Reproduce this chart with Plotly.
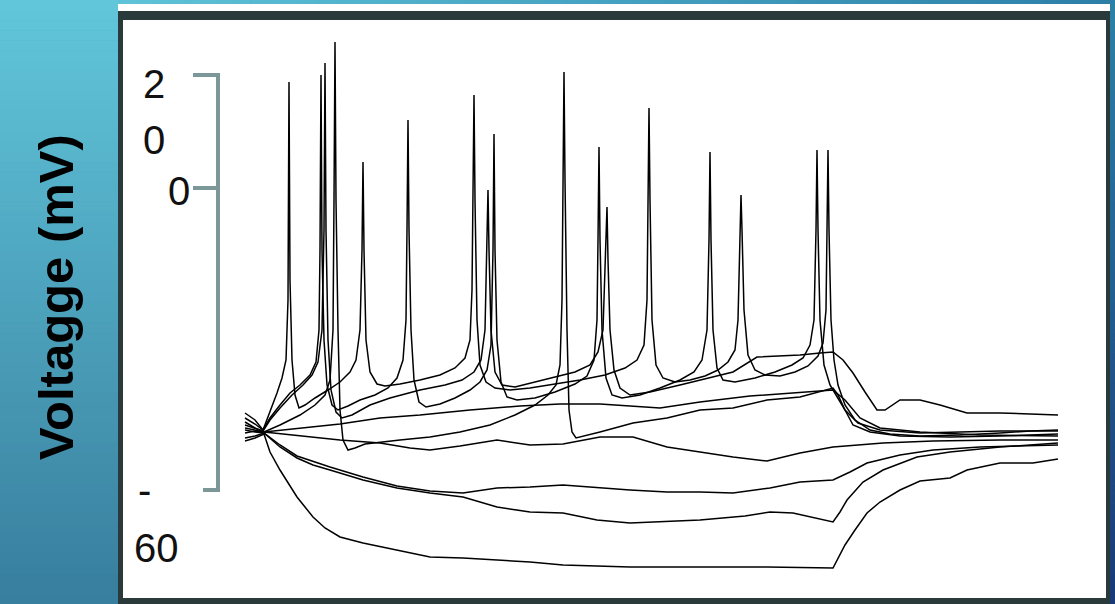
import plotly.graph_objects as go

# ---------------- data: membrane voltage traces (time in ms, voltage in mV) ----------------
trace_h1 = [(-17,-50.6),(-7,-50.0),(2,-49.2),(8,-52.8),(18,-56.4),(28,-59.6),(35,-61.8),(43,-63.8),(51,-65.8),(63,-68.0),
            (78,-69.8),(101,-71.0),(135,-72.4),(168,-73.8),(201,-74.0),(235,-74.4),(268,-74.8),(301,-75.4),(368,-75.8),(438,-75.8),
            (505,-75.8),(571,-76.0),(576,-74.0),(583,-71.4),(593,-68.4),(605,-65.0),(618,-62.8),(638,-60.4),(658,-58.6),(688,-58.0),
            (705,-56.4),(738,-55.0),(771,-55.0),(796,-54.2)]

trace_h2 = [(-17,-50.0),(-7,-49.6),(2,-49.0),(18,-51.8),(35,-54.0),(51,-55.4),(68,-56.4),(101,-58.4),(135,-60.0),(168,-61.0),
            (201,-61.8),(235,-63.8),(268,-64.8),(301,-65.0),(335,-66.4),(368,-67.0),(438,-66.4),(483,-65.6),(508,-64.8),(531,-65.0),
            (571,-66.8),(578,-64.8),(585,-62.4),(601,-58.8),(621,-56.4),(655,-53.8),(688,-52.8),(738,-51.8),(796,-51.0)]

trace_h3 = [(-17,-48.4),(-7,-48.8),(2,-49.0),(18,-51.4),(35,-53.6),(68,-55.8),(101,-57.8),(135,-59.6),(168,-60.6),(201,-61.0),
            (235,-60.0),(268,-59.8),(301,-59.4),(338,-60.0),(368,-60.4),(405,-60.8),(438,-60.8),(471,-61.0),(508,-60.0),(538,-58.8),
            (571,-58.4),(588,-56.8),(605,-55.0),(638,-53.4),(671,-52.4),(718,-51.8),(758,-51.6),(796,-51.4)]

trace_h4 = [(-17,-49.0),(-7,-48.6),(2,-48.8),(38,-49.6),(78,-50.4),(118,-51.0),(148,-52.0),(168,-52.4),(198,-51.6),(235,-50.4),
            (268,-51.4),(301,-51.2),(338,-49.8),(371,-49.8),(405,-51.8),(438,-52.8),(471,-53.8),(505,-54.6),(538,-53.0),(571,-51.8),
            (598,-51.4),(621,-51.0),(671,-50.6),(738,-50.4),(796,-50.4)]

trace_sub = [(-17,-46.8),(-7,-48.0),(2,-48.8),(38,-48.0),(78,-47.2),(118,-46.0),(158,-45.4),(208,-44.4),(258,-43.6),(298,-43.2),
             (338,-43.2),(398,-44.0),(438,-42.8),(488,-41.6),(538,-40.8),(571,-40.4),(583,-42.4),(598,-46.0),(618,-48.0),(658,-48.8),
             (718,-49.4),(796,-49.6)]

trace_d = [(-17,-48.0),(-7,-48.4),(2,-48.8),(18,-47.4),(38,-45.4),(53,-43.4),(63,-41.4),(68,-38.4),(71,-28.4),(72,-2.4),
           (73,29.2),(74,-2.4),(76,-28.4),(78,-44.4),(81,-50.4),(86,-52.4),(93,-52.0),(103,-51.2),(118,-50.8),(138,-50.4),
           (168,-49.8),(198,-48.8),(228,-47.4),(253,-45.4),(273,-43.4),(286,-41.4),(294,-39.4),(298,-35.4),(300,-22.4),(301,1.6),
           (302,23.2),(303,1.6),(305,-28.4),(307,-44.4),(310,-48.8),(314,-50.0),(323,-49.6),(338,-48.8),(371,-47.0),(405,-46.0),
           (438,-44.4),(471,-44.0),(505,-42.4),(538,-41.8),(571,-40.0),(576,-41.4),(583,-44.4),(591,-47.4),(608,-48.8),(638,-49.6),
           (688,-49.8),(738,-49.6),(796,-49.2)]

trace_a = [(-17,-46.0),(-7,-47.2),(1,-48.4),(8,-44.8),(15,-41.0),(20,-38.0),(24,-34.4),(26,-22.4),(27,21.2),(28,-18.4),
           (30,-34.4),(33,-41.4),(37,-44.0),(43,-43.4),(53,-42.0),(66,-40.4),(78,-38.8),(88,-36.8),(94,-34.4),(98,-28.4),
           (100,-12.4),(101,5.2),(102,-12.4),(104,-30.4),(108,-36.8),(115,-39.2),(123,-39.6),(138,-39.2),(158,-38.4),(178,-37.4),
           (193,-36.0),(203,-34.0),(208,-30.4),(210,-20.4),(211,-2.4),(212,18.6),(213,-2.4),(215,-26.4),(218,-35.4),(224,-38.8),
           (233,-40.0),(248,-40.4),(268,-40.0),(293,-39.2),(318,-38.4),(343,-37.4),(363,-36.0),(375,-34.4),(382,-31.4),(385,-22.4),
           (386,-2.4),(387,16.0),(388,-2.4),(390,-26.4),(394,-35.4),(401,-38.0),(413,-38.8),(428,-38.4),(443,-37.6),(456,-36.4),
           (466,-34.8),(473,-32.4),(476,-26.4),(478,-8.4),(479,-1.4),(480,-8.4),(482,-24.4),(486,-33.4),(493,-36.4),(503,-37.4),
           (518,-37.6),(533,-36.8),(546,-35.6),(556,-33.6),(561,-31.0),(564,-24.4),(565,-8.4),(566,7.6),(567,-8.4),(569,-26.4),
           (572,-34.4),(576,-39.4),(583,-43.4),(593,-46.4),(608,-48.4),(628,-49.2),(658,-49.6),(698,-49.4),(738,-49.0),(768,-48.6),
           (796,-48.4)]

trace_b = [(-17,-45.0),(-7,-46.4),(1,-48.4),(8,-46.0),(18,-43.4),(28,-41.0),(38,-39.4),(48,-37.4),(54,-34.8),(57,-28.4),
           (58,-12.4),(59,22.6),(60,-12.4),(62,-30.4),(65,-39.4),(70,-43.4),(76,-44.4),(86,-43.6),(98,-42.4),(113,-41.4),
           (126,-40.0),(135,-38.0),(141,-34.4),(144,-26.4),(145,-8.4),(146,13.6),(147,-8.4),(149,-28.4),(152,-38.4),(157,-42.8),
           (164,-43.8),(178,-43.2),(193,-42.0),(208,-40.4),(218,-38.8),(225,-36.4),(229,-31.4),(231,-12.4),(232,10.8),(233,-12.4),
           (235,-30.4),(239,-38.8),(245,-41.8),(255,-42.4),(273,-42.0),(293,-40.8),(313,-39.2),(325,-37.6),(332,-34.4),(335,-26.4),
           (336,-10.4),(337,8.2),(338,-10.4),(340,-28.4),(344,-38.0),(350,-41.4),(360,-42.0),(378,-41.4),(398,-40.0),(418,-38.4),
           (432,-36.8),(440,-34.4),(445,-28.4),(447,-10.4),(448,7.2),(449,-10.4),(451,-28.4),(455,-36.0),(461,-38.4),(473,-38.8),
           (493,-38.0),(513,-36.8),(530,-35.4),(541,-34.0),(548,-31.4),(552,-26.4),(554,-8.4),(555,7.6),(556,-8.4),(558,-26.4),
           (562,-35.4),(568,-39.4),(574,-41.4),(583,-44.4),(596,-47.0),(618,-48.4),(658,-49.0),(698,-48.8),(738,-48.6),(796,-48.6)]

trace_c = [(-17,-47.4),(-7,-48.0),(1,-48.6),(8,-46.4),(18,-44.0),(30,-41.4),(41,-39.4),(50,-37.4),(56,-34.8),(60,-28.4),
           (62,-8.4),(63,25.0),(64,-8.4),(66,-30.4),(69,-40.4),(74,-44.8),(80,-46.0),(90,-45.4),(108,-43.4),(128,-42.0),
           (158,-40.4),(183,-39.4),(200,-38.4),(212,-36.8),(219,-34.4),(223,-28.4),(225,-12.4),(226,-0.4),(227,-12.4),(229,-28.4),
           (233,-36.8),(240,-39.4),(253,-39.8),(273,-38.8),(293,-37.8),(313,-36.8),(328,-35.4),(336,-32.8),(341,-28.4),(343,-14.4),
           (345,-3.8),(346,-14.4),(348,-28.4),(352,-36.4),(358,-40.0),(368,-41.4),(388,-40.8),(418,-39.4),(438,-38.4),(471,-36.8),
           (495,-33.8),(518,-33.6),(538,-33.4),(558,-33.0),(571,-32.8),(581,-34.4),(591,-37.0),(603,-40.8),(615,-44.4),(623,-44.4),
           (638,-42.4),(658,-42.4),(678,-43.4),(705,-45.0),(738,-45.0),(768,-45.2),(796,-45.4)]

traces = [trace_h1, trace_h2, trace_h3, trace_h4, trace_sub, trace_d, trace_a, trace_b, trace_c]

# tick labels of the hand-drawn scale bracket
label_top = ["2", "0"]
label_zero = "0"
label_bottom = ["-", "60"]
y_title = "Voltagge (mV)"

# ---------------- figure ----------------
W, H = 1115, 604

def px(x):
    return x / W

def py(y):
    return 1 - y / H

def lerp(c1, c2, f):
    return "rgb(%d,%d,%d)" % tuple(round(a + (b - a) * f) for a, b in zip(c1, c2))

fig = go.Figure()
for tr in traces:
    fig.add_trace(go.Scatter(
        x=[p[0] for p in tr], y=[p[1] for p in tr], mode="lines",
        line=dict(color="black", width=1.5), hoverinfo="skip", showlegend=False))

shapes = []
# gradient background: left strip and right edge (vertical gradient)
n = 60
for i in range(n):
    y0, y1 = H * i / n, H * (i + 1) / n
    shapes.append(dict(type="rect", xref="paper", yref="paper", x0=0, x1=px(119),
                       y0=py(y1 + 0.5), y1=py(y0), line=dict(width=0),
                       fillcolor=lerp((97, 198, 218), (56, 126, 158), i / (n - 1)), layer="below"))
    shapes.append(dict(type="rect", xref="paper", yref="paper", x0=px(1109), x1=1,
                       y0=py(y1 + 0.5), y1=py(y0), line=dict(width=0),
                       fillcolor=lerp((44, 128, 166), (24, 58, 118), i / (n - 1)), layer="below"))
# top strip (horizontal gradient)
m = 60
for i in range(m):
    x0, x1 = 118 + (1110 - 118) * i / m, 118 + (1110 - 118) * (i + 1) / m
    shapes.append(dict(type="rect", xref="paper", yref="paper", x0=px(x0), x1=px(x1 + 0.5),
                       y0=py(4.5), y1=1, line=dict(width=0),
                       fillcolor=lerp((94, 195, 216), (44, 128, 168), i / (m - 1)), layer="below"))
# white band, dark frame, white panel
shapes.append(dict(type="rect", xref="paper", yref="paper", x0=px(118), x1=px(1110), y0=py(11), y1=py(4),
                   line=dict(width=0), fillcolor="white", layer="below"))
shapes.append(dict(type="rect", xref="paper", yref="paper", x0=px(118), x1=px(1110), y0=0, y1=py(11),
                   line=dict(width=0), fillcolor="#2a3939", layer="below"))
shapes.append(dict(type="rect", xref="paper", yref="paper", x0=px(123), x1=px(1106), y0=py(598), y1=py(20),
                   line=dict(width=0), fillcolor="white", layer="below"))
# scale bracket
bc = "#7b9797"
for (xa, ya, xb, yb) in [(218, 73, 218, 492), (193, 75, 220, 75), (193, 188, 220, 188), (203, 490, 220, 490)]:
    shapes.append(dict(type="line", xref="paper", yref="paper", x0=px(xa), y0=py(ya), x1=px(xb), y1=py(yb),
                       line=dict(color=bc, width=4), layer="below"))

fnt = "Liberation Sans Narrow, Arial Narrow, Liberation Sans, Arial, sans-serif"
ann = []
def label(text, x, y, size=40, family=fnt):
    ann.append(dict(text=text, x=px(x), y=py(y), xref="paper", yref="paper", showarrow=False,
                    xanchor="center", yanchor="middle", font=dict(size=size, color="#111111", family=family)))

label(label_top[0], 154, 84)
label(label_top[1], 154, 140)
label(label_zero, 179, 191)
label(label_bottom[0], 144, 490, size=40)
label(label_bottom[1], 156, 548)

ann.append(dict(text="<b>" + y_title + "</b>", x=px(56), y=py(297), xref="paper", yref="paper",
                showarrow=False, textangle=-90, xanchor="center", yanchor="middle",
                font=dict(size=49, color="black", family="Liberation Sans, Arial, sans-serif")))

fig.update_layout(
    width=W, height=H, margin=dict(l=0, r=0, t=0, b=0),
    paper_bgcolor="rgb(70,150,180)", plot_bgcolor="rgba(0,0,0,0)",
    xaxis=dict(range=[-139, 844], domain=[123 / W, 1106 / W], visible=False, fixedrange=True),
    yaxis=dict(range=[-82, 33.6], domain=[6 / H, 584 / H], visible=False, fixedrange=True),
    shapes=shapes, annotations=ann, showlegend=False,
)

fig.write_html("out.html", config={"displayModeBar": False},
               post_script="document.body.style.margin='0';document.body.style.overflow='hidden';")
